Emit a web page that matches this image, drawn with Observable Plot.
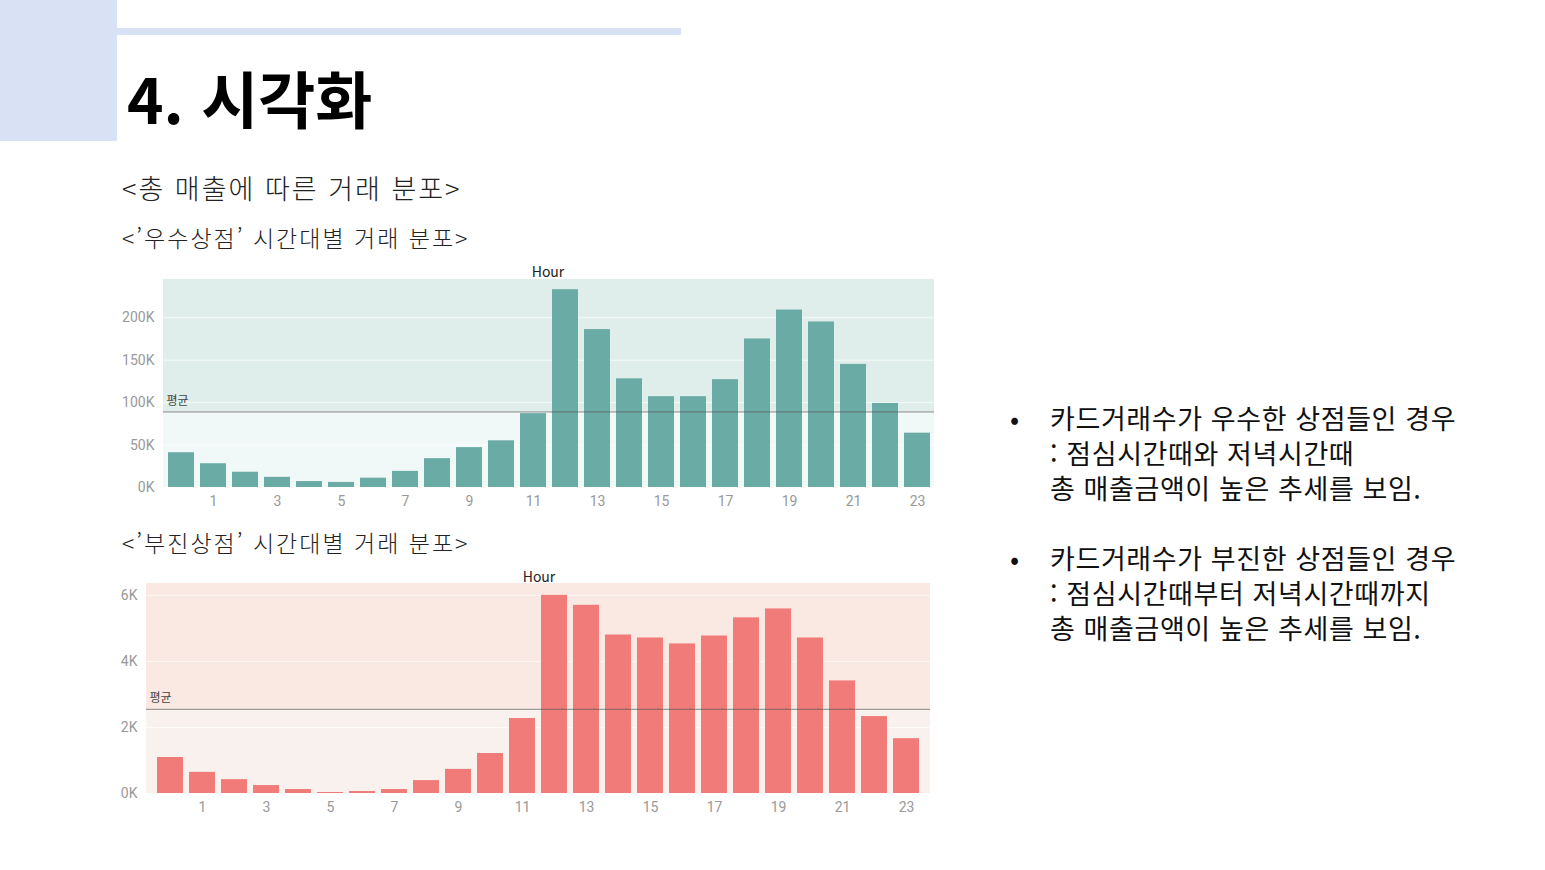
<!DOCTYPE html>
<html lang="ko">
<head>
<meta charset="UTF-8">
<script src="https://cdn.jsdelivr.net/npm/d3@7"></script>
<script src="https://cdn.jsdelivr.net/npm/@observablehq/plot@0.6"></script>
<style>
  body { margin: 0; width: 1545px; height: 870px; position: relative; background: #fff; font-family: "Noto Sans CJK KR", "Noto Sans", sans-serif; overflow: hidden; }
  .abs { position: absolute; white-space: nowrap; }
  .sub { font-weight: 300; color: #222; letter-spacing: 2px; }
  .hour { font-size: 14px; color: #222; transform: translateX(-50%); }
  .bul { font-size: 27px; line-height: 35px; color: #111; letter-spacing: 0.6px; }
</style>
</head>
<body>
<div class="abs" style="left:0;top:0;width:117px;height:141px;background:#d9e2f4"></div>
<div class="abs" style="left:117px;top:28px;width:564px;height:7px;background:#d9e2f4"></div>
<div class="abs" style="left:127px;top:52px;font-size:62px;font-weight:700;color:#000">4. 시각화</div>
<div class="abs sub" style="left:122px;top:168px;font-size:27px">&lt;총 매출에 따른 거래 분포&gt;</div>
<div class="abs sub" style="left:122px;top:220px;font-size:23px">&lt;’우수상점’ 시간대별 거래 분포&gt;</div>
<div class="abs sub" style="left:122px;top:525px;font-size:23px">&lt;’부진상점’ 시간대별 거래 분포&gt;</div>
<div class="abs hour" style="left:548px;top:261px">Hour</div>
<div class="abs hour" style="left:539px;top:566px">Hour</div>
<div id="top" class="abs" style="left:110px;top:270px"></div>
<div id="bottom" class="abs" style="left:110px;top:575px"></div>
<div class="abs bul" style="left:1010px;top:400px">•</div>
<div class="abs bul" style="left:1050px;top:400px">카드거래수가 우수한 상점들인 경우<br>: 점심시간때와 저녁시간때<br>총 매출금액이 높은 추세를 보임.</div>
<div class="abs bul" style="left:1010px;top:540px">•</div>
<div class="abs bul" style="left:1050px;top:540px">카드거래수가 부진한 상점들인 경우<br>: 점심시간때부터 저녁시간때까지<br>총 매출금액이 높은 추세를 보임.</div>
<script>
const hours = d3.range(24);
const goodSales = [41000, 28000, 18000, 12000, 7000, 6000, 11000, 19000, 34000, 47000, 55000, 87000,
  233000, 186000, 128000, 107000, 107000, 127000, 175000, 209000, 195000, 145000, 99000, 64000];
const poorSales = [1090, 640, 420, 240, 120, 30, 60, 120, 390, 730, 1210, 2270,
  6000, 5700, 4800, 4710, 4530, 4770, 5320, 5590, 4710, 3410, 2330, 1660];
const goodMean = 89000, poorMean = 2550;
const goodTicks = [0, 50000, 100000, 150000, 200000];
const poorTicks = [0, 2000, 4000, 6000];

function chart({values, mean, ticks, yMax, color, bgHigh, bgLow, ml, mr, mt, mb}) {
  const data = hours.map(h => ({hour: h, value: values[h]}));
  return Plot.plot({
    width: 830, height: 250,
    marginLeft: ml, marginRight: mr, marginTop: mt, marginBottom: mb,
    style: {fontFamily: "Liberation Sans Narrow, Roboto, sans-serif", fontSize: "14px", color: "#999"},
    x: {type: "band", domain: hours, paddingInner: 0.2, paddingOuter: 0.05, label: null,
        ticks: hours.filter(h => h % 2 === 1), tickSize: 0},
    y: {domain: [0, yMax], ticks, tickFormat: d => d / 1000 + "K", tickSize: 0, label: null},
    marks: [
      Plot.rect([0], {y1: mean, y2: yMax, fill: bgHigh}),
      Plot.rect([0], {y1: 0, y2: mean, fill: bgLow}),
      Plot.gridY(ticks, {stroke: "#fff", strokeOpacity: 0.7}),
      Plot.barY(data, {x: "hour", y: "value", fill: color}),
      Plot.ruleY([mean], {stroke: "#555", strokeOpacity: 0.7}),
      Plot.text([mean], {y: d => d, frameAnchor: "left", dx: 3, dy: -11, text: () => "평균",
        fill: "#444", fontSize: 12, textAnchor: "start",
        fontFamily: "Noto Sans CJK KR"})
    ]
  });
}

document.getElementById("top").appendChild(chart({
  values: goodSales, mean: goodMean, ticks: goodTicks, yMax: 245000, color: "#6aaba5",
  bgHigh: "#dfeeea", bgLow: "#f1f8f8", ml: 53, mr: 6, mt: 9, mb: 33
}));
document.getElementById("bottom").appendChild(chart({
  values: poorSales, mean: poorMean, ticks: poorTicks, yMax: 6360, color: "#f07b78",
  bgHigh: "#fae8e2", bgLow: "#f8f1ed", ml: 36, mr: 10, mt: 8, mb: 32
}));
</script>
</body>
</html>
